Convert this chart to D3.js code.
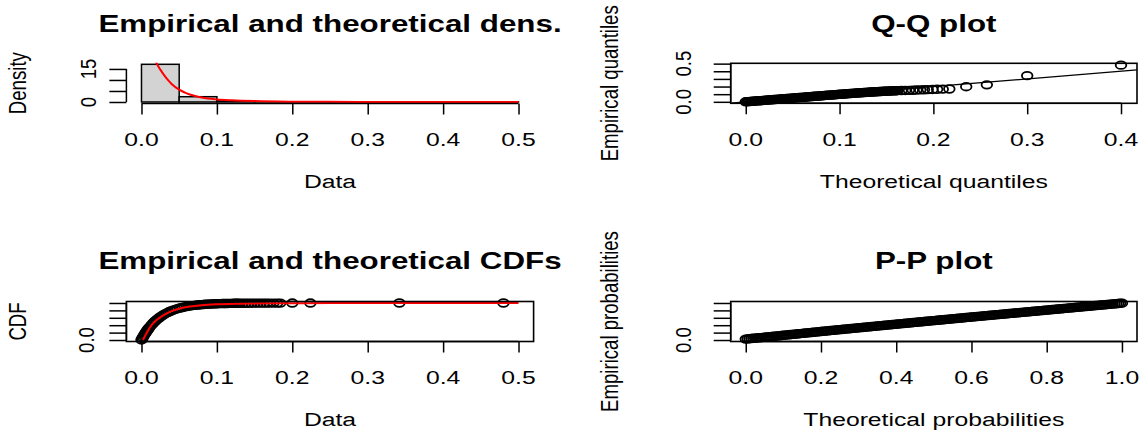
<!DOCTYPE html>
<html><head><meta charset="utf-8">
<script src="https://cdn.jsdelivr.net/npm/d3@7"></script>
<style>body{margin:0;background:#fff}svg{display:block}text{font-family:"Liberation Sans",Arial,sans-serif;fill:#000}</style>
</head><body><svg id="c" width="1145" height="430"></svg>
<script>
// ---------------- DATA ----------------
const histBreaks=[0,0.05,0.1,0.15,0.2,0.25,0.3,0.35,0.4,0.45,0.5];
const histDensity=[17.1,2.4,0.5,0.1,0.04,0.04,0,0.04,0,0.04];
const densCurveX=[0.000,0.005,0.010,0.015,0.020,0.025,0.030,0.035,0.040,0.050,0.060,0.070,0.080,0.100,0.120,0.150,0.200,0.250,0.300,0.400,0.500];
const densCurveY=[39.0,32.0,26.2,21.5,17.6,14.7,12.2,10.0,8.2,5.6,3.9,2.8,2.0,1.15,0.75,0.4,0.15,0.07,0.03,0.008,0.002];
const densXTicks=[0,0.1,0.2,0.3,0.4,0.5];
const densXLabels=["0.0","0.1","0.2","0.3","0.4","0.5"];
const densYTicks=[0,5,10,15];
const densYLabels=["0","","","15"];

const qqTheo=[0.0000,0.0015,0.0030,0.0045,0.0060,0.0075,0.0090,0.0105,0.0120,0.0135,
0.0150,0.0165,0.0180,0.0195,0.0210,0.0225,0.0240,0.0255,0.0270,0.0285,
0.0300,0.0315,0.0330,0.0345,0.0360,0.0375,0.0390,0.0405,0.0420,0.0435,
0.0450,0.0465,0.0480,0.0495,0.0510,0.0525,0.0540,0.0555,0.0570,0.0585,
0.0600,0.0615,0.0630,0.0645,0.0660,0.0675,0.0690,0.0705,0.0720,0.0735,
0.0750,0.0765,0.0780,0.0795,0.0810,0.0825,0.0840,0.0855,0.0870,0.0885,
0.0900,0.0915,0.0930,0.0945,0.0960,0.0975,0.0990,0.1005,0.1020,0.1035,
0.1050,0.1065,0.1080,0.1095,0.1110,0.1125,0.1140,0.1155,0.1170,0.1185,
0.1200,0.1215,0.1230,0.1245,0.1260,0.1275,0.1290,0.1305,0.1320,0.1335,
0.1350,0.1365,0.1380,0.1395,0.1410,0.1425,0.1440,0.1455,0.1470,0.1485,
0.1500,0.1515,0.1530,0.1545,0.1560,0.1575,0.1590,0.1605,0.1620,
0.166,0.170,0.174,0.178,0.182,0.186,0.190,0.194,0.199,0.204,0.210,0.217,0.235,0.257,0.300,0.400];
const qqEmp=[0.0000,0.0015,0.0029,0.0044,0.0059,0.0074,0.0088,0.0103,0.0118,0.0132,
0.0147,0.0162,0.0176,0.0191,0.0206,0.0221,0.0235,0.0250,0.0265,0.0279,
0.0294,0.0309,0.0323,0.0338,0.0353,0.0368,0.0382,0.0397,0.0412,0.0426,
0.0441,0.0456,0.0470,0.0485,0.0500,0.0515,0.0529,0.0544,0.0559,0.0573,
0.0588,0.0603,0.0617,0.0632,0.0647,0.0662,0.0676,0.0691,0.0706,0.0720,
0.0735,0.0750,0.0764,0.0779,0.0794,0.0809,0.0823,0.0838,0.0853,0.0867,
0.0882,0.0897,0.0911,0.0926,0.0941,0.0956,0.0970,0.0985,0.1000,0.1014,
0.1029,0.1043,0.1057,0.1071,0.1085,0.1099,0.1112,0.1126,0.1139,0.1152,
0.1165,0.1178,0.1191,0.1204,0.1216,0.1229,0.1241,0.1253,0.1265,0.1277,
0.1289,0.1300,0.1311,0.1322,0.1333,0.1344,0.1355,0.1365,0.1375,0.1385,
0.1395,0.1405,0.1414,0.1423,0.1432,0.1441,0.1449,0.1457,0.1465,
0.1475,0.149,0.150,0.152,0.154,0.156,0.158,0.160,0.162,0.164,0.166,0.168,0.198,0.222,0.343,0.480];
const qqXTicks=[0,0.1,0.2,0.3,0.4];
const qqXLabels=["0.0","0.1","0.2","0.3","0.4"];
const qqYTicks=[0,0.1,0.2,0.3,0.4,0.5];
const qqYLabels=["0.0","","","","","0.5"];

const cdfX=[0.000,0.001,0.002,0.003,0.004,0.005,0.006,0.007,0.008,0.009,0.010,0.012,0.014,0.016,0.018,0.020,0.022,0.024,0.026,0.028,0.030,0.033,0.036,0.039,0.042,0.045,0.048,0.051,0.054,0.057,
0.0600,0.0625,0.0650,0.0675,0.0700,0.0725,0.0750,0.0775,0.0800,0.0825,0.0850,0.0875,0.0900,0.0925,0.0950,0.0975,0.1000,0.1025,0.1050,0.1075,0.1100,0.1125,0.1150,0.1175,0.1200,0.1225,0.1250,0.1275,0.1300,
0.134,0.138,0.142,0.146,0.150,0.154,0.158,0.162,0.166,0.170,0.175,0.180,0.184,0.200,0.224,0.342,0.480];
const cdfY=[0.002,0.040,0.076,0.112,0.146,0.178,0.210,0.240,0.270,0.298,0.325,0.376,0.423,0.466,0.506,0.543,0.577,0.609,0.638,0.665,0.691,0.725,0.755,0.783,0.807,0.828,0.847,0.864,0.879,0.893,
0.905,0.914,0.922,0.929,0.936,0.941,0.946,0.951,0.956,0.960,0.964,0.967,0.970,0.973,0.975,0.978,0.980,0.982,0.983,0.985,0.986,0.987,0.988,0.989,0.990,0.991,0.991,0.992,0.992,
0.993,0.993,0.994,0.994,0.995,0.995,0.995,0.996,0.996,0.996,0.997,0.997,0.997,0.998,0.998,0.999,1.000];
const cdfCurveX=[0.002,0.005,0.010,0.015,0.020,0.030,0.040,0.050,0.060,0.080,0.100,0.130,0.170,0.250,0.350,0.500];
const cdfCurveY=[0.0,0.12,0.30,0.44,0.54,0.68,0.78,0.845,0.89,0.94,0.965,0.982,0.992,0.997,0.999,1.0];
const cdfXTicks=[0,0.1,0.2,0.3,0.4,0.5];
const cdfXLabels=["0.0","0.1","0.2","0.3","0.4","0.5"];
const probTicks=[0,0.2,0.4,0.6,0.8,1.0];
const probYLabels=["0.0","","","","",""];
const ppXLabels=["0.0","0.2","0.4","0.6","0.8","1.0"];

const ppTheo=[0.000,0.005,0.010,0.015,0.020,0.025,0.030,0.035,0.040,0.045,0.050,0.055,0.060,0.065,0.070,0.075,0.080,0.085,0.090,0.095,
0.100,0.105,0.110,0.115,0.120,0.125,0.130,0.135,0.140,0.145,0.150,0.155,0.160,0.165,0.170,0.175,0.180,0.185,0.190,0.195,
0.200,0.205,0.210,0.215,0.220,0.225,0.230,0.235,0.240,0.245,0.250,0.255,0.260,0.265,0.270,0.275,0.280,0.285,0.290,0.295,
0.300,0.305,0.310,0.315,0.320,0.325,0.330,0.335,0.340,0.345,0.350,0.355,0.360,0.365,0.370,0.375,0.380,0.385,0.390,0.395,
0.400,0.405,0.410,0.415,0.420,0.425,0.430,0.435,0.440,0.445,0.450,0.455,0.460,0.465,0.470,0.475,0.480,0.485,0.490,0.495,
0.500,0.505,0.510,0.515,0.520,0.525,0.530,0.535,0.540,0.545,0.550,0.555,0.560,0.565,0.570,0.575,0.580,0.585,0.590,0.595,
0.600,0.605,0.610,0.615,0.620,0.625,0.630,0.635,0.640,0.645,0.650,0.655,0.660,0.665,0.670,0.675,0.680,0.685,0.690,0.695,
0.700,0.705,0.710,0.715,0.720,0.725,0.730,0.735,0.740,0.745,0.750,0.755,0.760,0.765,0.770,0.775,0.780,0.785,0.790,0.795,
0.800,0.805,0.810,0.815,0.820,0.825,0.830,0.835,0.840,0.845,0.850,0.855,0.860,0.865,0.870,0.875,0.880,0.885,0.890,0.895,
0.900,0.905,0.910,0.915,0.920,0.925,0.930,0.935,0.940,0.945,0.950,0.955,0.960,0.965,0.970,0.975,0.980,0.985,0.990,0.995,1.000];
const ppEmp=[0.025,0.031,0.036,0.040,0.046,0.050,0.056,0.061,0.065,0.071,0.076,0.080,0.086,0.091,0.096,0.101,0.106,0.111,0.116,0.121,
0.127,0.132,0.138,0.143,0.148,0.153,0.158,0.163,0.168,0.173,0.179,0.184,0.189,0.194,0.199,0.204,0.209,0.214,0.219,0.225,
0.230,0.235,0.240,0.245,0.250,0.255,0.260,0.265,0.270,0.275,0.280,0.285,0.290,0.295,0.300,0.305,0.310,0.315,0.320,0.324,
0.329,0.334,0.339,0.344,0.349,0.354,0.359,0.364,0.368,0.373,0.378,0.383,0.388,0.393,0.398,0.403,0.408,0.412,0.417,0.422,
0.427,0.432,0.437,0.442,0.447,0.451,0.456,0.461,0.466,0.471,0.476,0.481,0.486,0.491,0.495,0.500,0.505,0.510,0.515,0.519,
0.524,0.529,0.534,0.539,0.543,0.548,0.553,0.558,0.563,0.568,0.572,0.577,0.582,0.587,0.591,0.596,0.601,0.606,0.611,0.615,
0.620,0.625,0.630,0.634,0.639,0.644,0.648,0.653,0.658,0.663,0.667,0.672,0.677,0.681,0.686,0.691,0.695,0.700,0.704,0.709,
0.714,0.719,0.723,0.728,0.733,0.737,0.742,0.747,0.751,0.756,0.761,0.765,0.770,0.775,0.779,0.784,0.789,0.793,0.798,0.803,
0.808,0.812,0.817,0.822,0.826,0.831,0.836,0.840,0.845,0.850,0.855,0.859,0.864,0.869,0.873,0.878,0.883,0.887,0.892,0.897,
0.902,0.906,0.911,0.916,0.920,0.925,0.930,0.934,0.939,0.944,0.949,0.953,0.958,0.963,0.967,0.972,0.977,0.981,0.986,0.991,0.996];

// ---------------- LAYOUT ----------------
const SX=1.33, SXT=1.345, SXR=1.3, FS=18.6, FT=23.3, FY=18.6;
const P={
  dens:{x0:126.4,x1:533.6,y0:62.8,y1:103.5,title:31.7,tick:145.5,xl:188},
  qq:{x0:730.7,x1:1137,y0:63.3,y1:103.3,title:31.7,tick:145.5,xl:188},
  cdf:{x0:126.4,x1:533.6,y0:301.5,y1:341.5,title:269,tick:384,xl:426},
  pp:{x0:730.7,x1:1137,y0:301.5,y1:341.5,title:269,tick:384,xl:426}
};
const ext=(a,b)=>[a-0.04*(b-a),b+0.04*(b-a)];
const svg=d3.select("#c");
svg.append("rect").attr("width",1145).attr("height",430).attr("fill","#fff");

function txt(g,x,y,s,o={}){
  return g.append("text")
    .attr("transform",`translate(${x},${y}) scale(${o.sx??SX},1)`+(o.rot?" rotate(-90)":""))
    .attr("text-anchor","middle").attr("dy",o.dy||null)
    .attr("font-size",o.size||FS).attr("font-weight",o.bold?"bold":"normal").text(s);
}
function xAxis(p,x,ticks,labels){
  const g=svg.append("g").attr("transform",`translate(0,${p.y1})`);
  g.call(d3.axisBottom(x).tickValues(ticks).tickFormat("").tickSize(11).tickSizeOuter(0));
  g.select(".domain").remove();
  g.append("line").attr("x1",x(ticks[0])).attr("x2",x(ticks[ticks.length-1])).attr("stroke","#000");
  g.selectAll("line").attr("stroke","#000").attr("stroke-width",1.5);
  ticks.forEach((t,i)=>txt(svg,x(t),p.tick,labels[i]));
}
function yAxis(p,y,ticks,labels,off){
  const g=svg.append("g").attr("transform",`translate(${p.x0},0)`);
  g.call(d3.axisLeft(y).tickValues(ticks).tickFormat("").tickSize(17).tickSizeOuter(0));
  g.select(".domain").remove();
  g.append("line").attr("y1",y(ticks[0])).attr("y2",y(ticks[ticks.length-1])).attr("stroke","#000");
  g.selectAll("line").attr("stroke","#000").attr("stroke-width",1.5);
  ticks.forEach((t,i)=>{ if(labels[i]) txt(svg,p.x0-off,y(t),labels[i],{rot:true,dy:"0.36em",sx:1.15}); });
}
function box(p){
  svg.append("rect").attr("x",p.x0).attr("y",p.y0).attr("width",p.x1-p.x0).attr("height",p.y1-p.y0)
    .attr("fill","none").attr("stroke","#000").attr("stroke-width",1.6);
}
function titles(p,main,xl,yl,ylx){
  txt(svg,(p.x0+p.x1)/2,p.title,main,{size:FT,bold:true,sx:SXT});
  txt(svg,(p.x0+p.x1)/2,p.xl,xl);
  txt(svg,ylx,(p.y0+p.y1)/2,yl,{rot:true,size:FY,dy:"0.36em",sx:SXR});
}
function clip(id,p){
  svg.append("clipPath").attr("id",id).append("rect").attr("x",p.x0).attr("y",p.y0).attr("width",p.x1-p.x0).attr("height",p.y1-p.y0);
  return `url(#${id})`;
}
function pts(x,y,xs,ys){
  const n=Math.min(xs.length,ys.length);
  svg.append("g").selectAll("ellipse").data(d3.range(n)).join("ellipse")
    .attr("cx",i=>x(xs[i])).attr("cy",i=>y(ys[i])).attr("rx",5.3).attr("ry",3.8)
    .attr("fill","none").attr("stroke","#000").attr("stroke-width",1.8);
}

// ---- Panel 1: density ----
{
  const p=P.dens;
  const x=d3.scaleLinear().domain(ext(0,0.5)).range([p.x0,p.x1]);
  const y=d3.scaleLinear().domain(ext(0,d3.max(histDensity))).range([p.y1,p.y0]);
  svg.append("g").selectAll("rect").data(histDensity).join("rect")
    .attr("x",(d,i)=>x(histBreaks[i])).attr("width",(d,i)=>x(histBreaks[i+1])-x(histBreaks[i]))
    .attr("y",d=>y(d)).attr("height",d=>y(0)-y(d))
    .attr("fill","#D3D3D3").attr("stroke","#000").attr("stroke-width",1.5);
  const line=d3.line().x(d=>x(d[0])).y(d=>y(d[1])).curve(d3.curveMonotoneX);
  svg.append("path").datum(densCurveX.map((v,i)=>[v,densCurveY[i]])).attr("d",line)
    .attr("fill","none").attr("stroke","#FF0000").attr("stroke-width",2).attr("clip-path",clip("c1",p));
  xAxis(p,x,densXTicks,densXLabels);
  yAxis(p,y,densYTicks,densYLabels,38);
  titles(p,"Empirical and theoretical dens.","Data","Density",17);
}
// ---- Panel 2: Q-Q ----
{
  const p=P.qq;
  const x=d3.scaleLinear().domain(ext(0,0.401)).range([p.x0,p.x1]);
  const y=d3.scaleLinear().domain(ext(0,0.485)).range([p.y1,p.y0]);
  pts(x,y,qqTheo,qqEmp);
  const xd=x.domain();
  svg.append("line").attr("x1",x(xd[0])).attr("y1",y(xd[0])).attr("x2",x(xd[1])).attr("y2",y(xd[1]))
    .attr("stroke","#000").attr("stroke-width",1.3).attr("clip-path",clip("c2",p));
  box(p);
  xAxis(p,x,qqXTicks,qqXLabels);
  yAxis(p,y,qqYTicks,qqYLabels,47);
  titles(p,"Q-Q plot","Theoretical quantiles","Empirical quantiles",609);
}
// ---- Panel 3: CDF ----
{
  const p=P.cdf;
  const x=d3.scaleLinear().domain(ext(0,0.5)).range([p.x0,p.x1]);
  const y=d3.scaleLinear().domain(ext(0,1)).range([p.y1,p.y0]);
  pts(x,y,cdfX,cdfY);
  const line=d3.line().x(d=>x(d[0])).y(d=>y(d[1])).curve(d3.curveMonotoneX);
  svg.append("path").datum(cdfCurveX.map((v,i)=>[v,cdfCurveY[i]])).attr("d",line)
    .attr("fill","none").attr("stroke","#FF0000").attr("stroke-width",2).attr("clip-path",clip("c3",p));
  box(p);
  xAxis(p,x,cdfXTicks,cdfXLabels);
  yAxis(p,y,probTicks,probYLabels,40);
  titles(p,"Empirical and theoretical CDFs","Data","CDF",17);
}
// ---- Panel 4: P-P ----
{
  const p=P.pp;
  const x=d3.scaleLinear().domain(ext(0,1)).range([p.x0,p.x1]);
  const y=d3.scaleLinear().domain(ext(0,1)).range([p.y1,p.y0]);
  pts(x,y,ppTheo,ppEmp);
  box(p);
  xAxis(p,x,probTicks,ppXLabels);
  yAxis(p,y,probTicks,probYLabels,47);
  titles(p,"P-P plot","Theoretical probabilities","Empirical probabilities",609);
}
</script></body></html>
